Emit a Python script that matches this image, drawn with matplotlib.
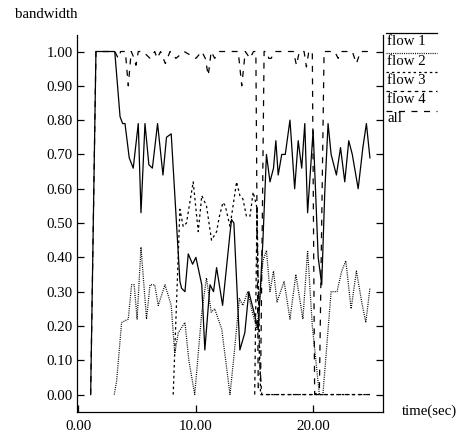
import matplotlib
matplotlib.use("Agg")
import matplotlib.pyplot as plt
from matplotlib.lines import Line2D

plt.rcParams['font.family'] = ['Liberation Serif', 'DejaVu Serif']
plt.rcParams['font.size'] = 10.7
plt.rcParams['lines.scale_dashes'] = False

# bandwidth share per flow, (time, value) vertices
flow1_t = [1.05, 1.5, 3.1, 3.55, 3.77, 3.97, 4.33, 4.67, 5.1, 5.33, 5.67, 6.0, 6.3, 6.74,
           7.2, 7.5, 7.9, 8.64, 8.78, 9.07, 9.35, 9.72, 10.0, 10.5, 10.76, 11.2, 11.5,
           11.76, 12.27, 12.9, 13.03, 13.23, 13.74, 14.16, 14.5, 15.3, 15.7, 16.0, 16.3,
           16.6, 16.8, 17.0, 17.3, 17.6, 18.0, 18.4, 18.7, 19.0, 19.26, 19.5, 19.97, 20.4,
           20.7, 20.96, 21.24, 21.5, 21.95, 22.3, 22.66, 23.0, 23.3, 23.8, 24.2, 24.5, 24.8]
flow1_v = [0, 1.0, 1.0, 0.81, 0.79, 0.79, 0.69, 0.66, 0.79, 0.53, 0.79, 0.67, 0.66, 0.79,
           0.64, 0.75, 0.76, 0.33, 0.31, 0.30, 0.41, 0.38, 0.40, 0.32, 0.13, 0.32, 0.30,
           0.37, 0.26, 0.47, 0.51, 0.50, 0.13, 0.18, 0.30, 0.19, 0.45, 0.70, 0.62,
           0.66, 0.74, 0.64, 0.70, 0.70, 0.80, 0.60, 0.74, 0.66, 0.79, 0.53, 0.77, 0.40,
           0.32, 0.59, 0.79, 0.70, 0.64, 0.72, 0.62, 0.74, 0.70, 0.60, 0.72, 0.79, 0.69]

flow2_t = [3.06, 3.26, 3.68, 4.25, 4.53, 4.75, 5.0, 5.33, 5.8, 6.1, 6.5, 6.8, 7.37, 7.9,
           8.2, 8.5, 9.07, 9.4, 9.9, 10.2, 10.5, 10.9, 11.3, 11.6, 12.2, 12.9, 13.2, 13.7,
           14.0, 14.4, 14.8, 15.2, 15.7, 16.0, 16.3, 16.6, 16.9, 17.2, 17.5, 18.0, 18.5,
           19.1, 19.5, 19.9, 20.5, 20.8, 21.5, 22.0, 22.4, 22.75, 23.2, 23.65, 24.1,
           24.45, 24.8]
flow2_v = [0, 0.04, 0.21, 0.22, 0.32, 0.32, 0.22, 0.43, 0.22, 0.32, 0.32, 0.26, 0.32, 0.26,
           0.12, 0.18, 0.21, 0.10, 0.0, 0.12, 0.24, 0.34, 0.24, 0.25, 0.19, 0.0, 0.10, 0.28,
           0.26, 0.30, 0.24, 0.19, 0.39, 0.42, 0.30, 0.36, 0.27, 0.30, 0.33, 0.22, 0.35,
           0.22, 0.42, 0.20, 0.0, 0.0, 0.30, 0.30, 0.36, 0.39, 0.25, 0.36, 0.27,
           0.21, 0.31]

flow3_t = [8.07, 8.64, 8.92, 9.2, 9.77, 10.2, 10.5, 10.9, 11.33, 11.76, 12.0, 12.3, 12.5,
           12.9, 13.46, 13.74, 14.0, 14.3, 14.6, 14.87, 15.16, 15.5, 24.8]
flow3_v = [0, 0.54, 0.49, 0.50, 0.62, 0.475, 0.58, 0.55, 0.45, 0.475, 0.52, 0.56, 0.55,
           0.49, 0.62, 0.58, 0.57, 0.52, 0.52, 0.59, 0.55, 0.0, 0.0]

flow4_t = [15.0, 15.2, 15.4, 15.6, 24.8]
flow4_v = [0, 0.55, 0.10, 0.0, 0.0]

all_t = [1.05, 1.5, 3.1, 3.4, 3.6, 4.0, 4.25, 4.5, 4.75, 4.9, 5.1, 5.5, 6.1, 6.5, 6.7,
         7.0, 7.4, 7.8, 8.3, 9.0, 10.0, 10.5, 10.8, 11.05, 11.3, 11.6, 12.0, 12.5, 13.6,
         13.9, 14.2, 14.6, 14.9, 15.1, 15.3, 15.5, 15.8, 16.0, 16.2, 16.4, 16.7, 17.5,
         18.3, 18.55, 18.8, 19.2, 19.4, 19.6, 19.9, 20.1, 20.5, 20.9, 21.2, 21.8, 22.1,
         22.4, 23.3, 23.65, 24.0, 24.8]
all_v = [0, 1.0, 1.0, 0.98, 1.0, 1.0, 0.90, 1.0, 0.98, 0.96, 1.0, 1.0, 0.98, 1.0, 0.98,
         1.0, 0.965, 1.0, 0.98, 1.0, 0.98, 1.0, 0.98, 0.93, 1.0, 0.98, 1.0, 1.0, 1.0,
         0.90, 1.0, 0.98, 1.0, 1.0, 0.02, 0.03, 1.0, 1.0, 0.98, 0.98, 1.0, 1.0,
         1.0, 0.96, 1.0, 1.0, 0.955, 1.0, 1.0, 0.0, 0.01, 1.0, 1.0, 1.0, 0.98,
         1.0, 1.0, 0.965, 1.0, 1.0]

labels = ['flow 1', 'flow 2', 'flow 3', 'flow 4', 'all']
styles = ['-', (0, (0.72, 0.86)), (0, (1.8, 2.1)), (0, (2.5, 2.6)), (0, (4.3, 4.7))]
yticks = [0.0, 0.1, 0.2, 0.3, 0.4, 0.5, 0.6, 0.7, 0.8, 0.9, 1.0]
xticks = [0, 10, 20]

fig = plt.figure(figsize=(4.62, 4.38), dpi=100)
ax = fig.add_axes([0.1667, 0.06, 0.662, 0.86])

series = [(flow1_t, flow1_v), (flow2_t, flow2_v), (flow3_t, flow3_v),
          (flow4_t, flow4_v), (all_t, all_v)]
for (t, v), ls in zip(series, styles):
    ax.plot(t, v, color='black', lw=0.9, linestyle=ls)

ax.set_xlim(-0.11, 25.9)
ax.set_ylim(-0.05, 1.048)
ax.spines['top'].set_visible(False)
for s in ['left', 'right', 'bottom']:
    ax.spines[s].set_linewidth(0.9)

ax.set_yticks(yticks)
ax.set_yticklabels(['%.2f' % y for y in yticks])
ax.set_xticks(xticks)
ax.set_xticklabels(['%.2f' % x for x in xticks])
ax.tick_params(axis='y', direction='in', length=5, width=0.9, pad=3, right=True)
ax.tick_params(axis='x', direction='in', length=5, width=0.9, pad=6)

fig.text(15 / 462, 1 - 14 / 438, 'bandwidth', ha='left', va='center')
fig.text(402 / 462, 1 - 411 / 438, 'time(sec)', ha='left', va='center')

# legend: sample line above each label, outside the right spine
for i, (lab, ls) in enumerate(zip(labels, styles)):
    y_line = 33.3 + 19.3 * i
    fig.add_artist(Line2D([386 / 462, 437 / 462], [1 - y_line / 438] * 2,
                          color='black', lw=0.9, linestyle=ls))
    fig.text(387 / 462, 1 - (y_line + 8.5) / 438, lab, ha='left', va='center')

fig.savefig('out.png', dpi=100)
